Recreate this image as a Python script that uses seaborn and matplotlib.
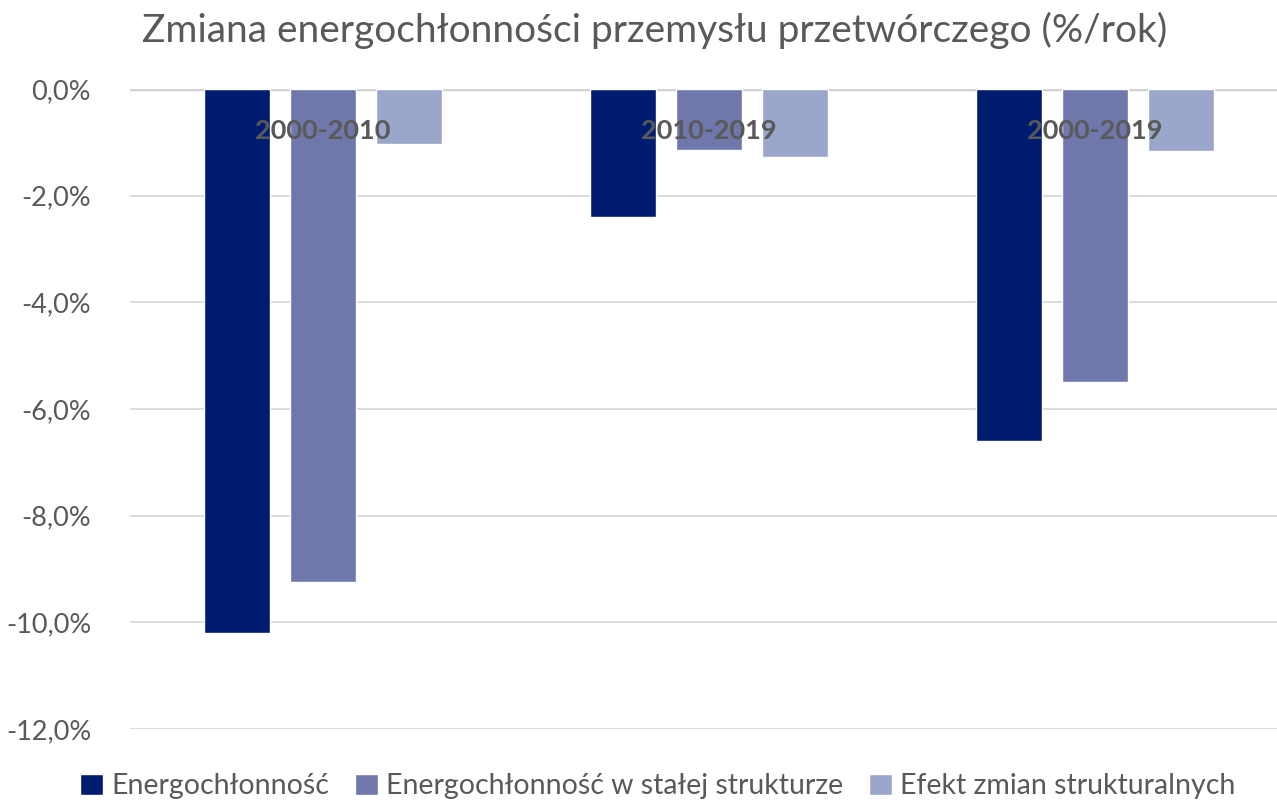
import pandas as pd
import seaborn as sns
import matplotlib.pyplot as plt
from matplotlib.ticker import FuncFormatter

# Data (% per year)
periods = ["2000-2010", "2010-2019", "2000-2019"]
series = ["Energochłonność", "Energochłonność w stałej strukturze", "Efekt zmian strukturalnych"]
energochlonnosc = [-10.2, -2.4, -6.6]
stala_struktura = [-9.25, -1.14, -5.5]
efekt_struktury = [-1.03, -1.28, -1.16]
colors = ["#001c71", "#6f77ab", "#9ba7ca"]

df = pd.DataFrame({
    "okres": periods * 3,
    "seria": [s for s in series for _ in periods],
    "wartosc": energochlonnosc + stala_struktura + efekt_struktury,
})

sns.set_style("white")
plt.rcParams["font.family"] = ["Lato", "DejaVu Sans"]
grey = "#595959"

fig = plt.figure(figsize=(12.77, 8.05), dpi=100)
ax = fig.add_axes([130 / 1277, 0.0944, 1158 / 1277, 0.795])

sns.barplot(data=df, x="okres", y="wartosc", hue="seria", palette=colors,
            saturation=1, width=0.668, gap=0.223, ax=ax, legend=True)

ax.set_ylim(-12, 0)
ax.set_xlim(-0.5, 2.5)
ax.set_yticks([0, -2, -4, -6, -8, -10, -12])
ax.yaxis.set_major_formatter(FuncFormatter(lambda v, p: f"{v:.1f}%".replace(".", ",")))
ax.yaxis.grid(True, color="#d9d9d9", linewidth=1.3)
ax.set_axisbelow(True)
ax.axhline(0, color="#d0d0d0", linewidth=2.5, zorder=0)
for s in ax.spines.values():
    s.set_visible(False)

ax.tick_params(axis="y", labelsize=19.5, colors=grey, length=0, pad=28)
ax.set_xticks([])
ax.set_xlabel("")
ax.set_ylabel("")

# category labels drawn over the bars, near the zero line
for i, p in enumerate(periods):
    ax.text(i, -0.78, p, ha="center", va="center", fontsize=19.5,
            fontweight="bold", color=grey, zorder=10)

fig.suptitle("Zmiana energochłonności przemysłu przetwórczego (%/rok)",
             x=0.513, y=0.985, fontsize=28, color=grey)

leg = ax.legend(loc="lower center", bbox_to_anchor=(0.456, -0.15),
                ncol=3, frameon=False, fontsize=20.5, handlelength=0.8, handleheight=0.8,
                handletextpad=0.3, columnspacing=0.9)
for t in leg.get_texts():
    t.set_color(grey)

fig.savefig("out.png", dpi=100)
